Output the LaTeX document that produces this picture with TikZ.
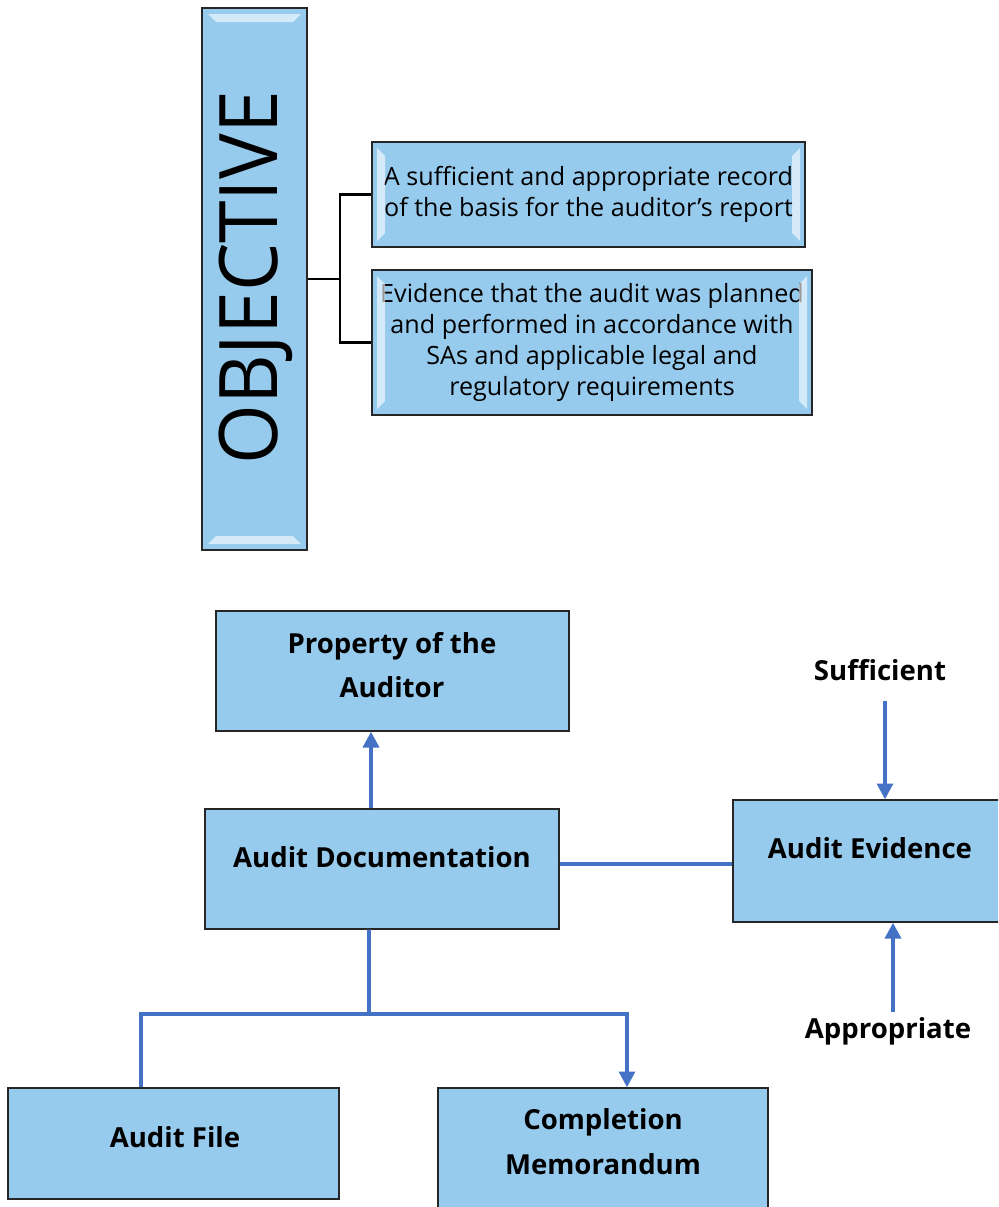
\documentclass[tikz,border=0pt]{standalone}
\usepackage{fontspec}
\setmainfont{Open Sans}
\newfontfamily\objfont[FakeStretch=0.95]{Open Sans}
\usetikzlibrary{positioning,arrows.meta}
\definecolor{boxblue}{RGB}{151,203,238}
\definecolor{linkblue}{RGB}{68,114,196}
\tikzset{
  box/.style={draw=black!85, line width=0.8pt, fill=boxblue, inner sep=0pt, align=center},
  shine/.style={fill=white, opacity=0.6},
  link/.style={draw=linkblue, line width=2.2pt},
  tip/.style={-{Triangle[length=9pt,width=9pt]}},
  tree/.style={draw=black, line width=1.3pt},
  btxt/.style={font=\bfseries\fontsize{15.7}{25.5}\selectfont, align=center, inner sep=0pt},
  ptxt/.style={font=\fontsize{14.3}{17.6}\selectfont},
}
\begin{document}
\begin{tikzpicture}[x=0.02cm, y=-0.02cm]
    \clip (0,0) rectangle (998,1207);

    % Objective
    \node[box, minimum width=2.1cm, minimum height=10.84cm] (obj) at (254.5,279) {};
    \node[rotate=90, inner sep=0pt, font=\objfont\fontsize{46}{46}\selectfont] (objt) at (256,278) {OBJECTIVE};
    \node[box, ptxt, minimum width=8.66cm, minimum height=2.1cm] (rec) at (588.5,194.5)
        {A sufficient and appropriate record\\of the basis for the auditor’s report};
    \node[box, ptxt, minimum width=8.8cm, minimum height=2.9cm] (evi) at (592,342.5)
        {Evidence that the audit was planned\\and performed in accordance with\\SAs and applicable legal and\\regulatory requirements};
    \fill[shine] (208,14) -- (301,14) -- (293,22) -- (216,22) -- cycle;
    \fill[shine] (208,544) -- (301,544) -- (293,536) -- (216,536) -- cycle;
    \fill[shine] (377,148) -- (385,156) -- (385,233) -- (377,241) -- cycle;
    \fill[shine] (800,148) -- (792,156) -- (792,233) -- (800,241) -- cycle;
    \fill[shine] (377,276) -- (385,284) -- (385,401) -- (377,409) -- cycle;
    \fill[shine] (807,276) -- (799,284) -- (799,401) -- (807,409) -- cycle;

    % Objective links
    \coordinate (fork) at (340,279);
    \draw[tree] (obj.east) -- (fork);
    \draw[tree] (rec.west) -| (fork) |- (evi.west);

    % Boxes
    \node[box, minimum width=7.06cm, minimum height=2.4cm] (propbox) at (392.5,671) {};
    \node[btxt] (prop) at (392,665) {Property of the\\Auditor};
    \node[box, minimum width=7.08cm, minimum height=2.4cm] (docbox) at (382,869) {};
    \node[btxt] (doc) at (382,857) {Audit Documentation};
    \node[box, minimum width=5.54cm, minimum height=2.44cm] (evbox) at (871.5,861) {};
    \node[btxt] (ev) at (870,848) {Audit Evidence};
    \node[box, minimum width=6.62cm, minimum height=2.22cm] (filebox) at (173.5,1143.5) {};
    \node[btxt] (file) at (175,1137) {Audit File};
    \node[box, minimum width=6.6cm, minimum height=2.64cm] (memobox) at (603,1154) {};
    \node[btxt] (memo) at (603,1142) {Completion\\Memorandum};
    \node[btxt] (suf) at (880,670) {Sufficient};
    \node[btxt] (app) at (888,1031) {Appropriate};

    % Lines
    \draw[link,tip] ([xshift=-0.22cm]docbox.north) coordinate (up) -- (up |- propbox.south);
    \draw[link] ([yshift=0.1cm]docbox.east) coordinate (mid) -- (mid -| evbox.west);
    \draw[link,tip] ([xshift=0.1cm,yshift=-0.4cm]suf.south) coordinate (s) -- (s |- evbox.north);
    \draw[link,tip] ([xshift=0.1cm,yshift=0.1cm]app.north) coordinate (a) -- (a |- evbox.south);
    \coordinate (split) at (369,1014);
    \draw[link] ([xshift=-0.26cm]docbox.south) -- (split);
    \draw[link] (split) -| ([xshift=-0.65cm]filebox.north);
    \draw[link,tip] (split) -| ([xshift=0.48cm]memobox.north);
\end{tikzpicture}
\end{document}
